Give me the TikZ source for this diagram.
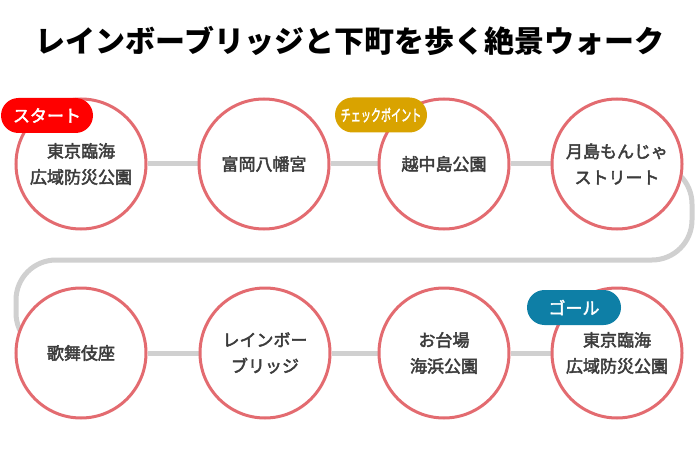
\documentclass[tikz,border=0pt]{standalone}
\usepackage{fontspec}
\setmainfont{Noto Sans CJK JP}
\newfontfamily\midfont[FakeBold=2.6]{Noto Sans CJK JP}
\usetikzlibrary{backgrounds}
\definecolor{ring}{HTML}{E36B70}
\definecolor{conn}{HTML}{D0D0D0}
\definecolor{txt}{HTML}{3C3C3C}
\definecolor{startc}{HTML}{FF0000}
\definecolor{checkc}{HTML}{D9A300}
\definecolor{goalc}{HTML}{0E7FA6}
\begin{document}
\begin{tikzpicture}[x=1pt,y=-1pt,
  spot/.style={circle, draw=ring, line width=3pt, fill=white, minimum size=130pt,
    inner sep=0pt, font=\midfont\fontsize{17}{26}\selectfont, text=txt, align=center},
  link/.style={draw=conn, line width=5pt},
  badge/.style={rounded corners=17.5pt, text=white, minimum height=35pt, inner sep=0pt,
    font=\midfont\fontsize{17}{20}\selectfont},
  headline/.style={font=\fontsize{30}{34}\selectfont\bfseries, text=black}
]
\useasboundingbox (0,0) rectangle (699,476);
\node[headline] (title) at (350,41) {レインボーブリッジと下町を歩く絶景ウォーク};

\node[spot] (c1) at (81,164) {東京臨海\\広域防災公園};
\node[spot] (c2) at (264,164) {富岡八幡宮};
\node[spot] (c3) at (444,164) {越中島公園};
\node[spot] (c4) at (617,164) {月島もんじゃ\\ストリート};
\node[spot] (c5) at (81,353) {歌舞伎座};
\node[spot] (c6) at (265,353) {レインボー\\ブリッジ};
\node[spot] (c7) at (444,353) {お台場\\海浜公園};
\node[spot] (c8) at (617,353) {東京臨海\\広域防災公園};

\coordinate (r1) at (692,164);
\coordinate (r2) at (692,260);
\coordinate (l1) at (16,260);
\coordinate (l2) at (16,353);

\begin{scope}[on background layer]
  \draw[link] (c1) -- (c2);
  \draw[link] (c2) -- (c3);
  \draw[link] (c3) -- (c4);
  \draw[link, rounded corners=40pt] (c4.center) -- (r1) -- (r2) -- (l1) -- (l2) -- (c5.center);
  \draw[link] (c5) -- (c6);
  \draw[link] (c6) -- (c7);
  \draw[link] (c7) -- (c8);
\end{scope}

\node[badge, fill=startc, minimum width=92pt] (start) at (47,115.5) {スタート};
\node[badge, fill=checkc, minimum width=92pt, font=\midfont\fontsize{16}{18}\selectfont] (check) at (381,115) {\scalebox{0.63}[1]{チェックポイント}};
\node[badge, fill=goalc, minimum width=94pt] (goal) at (574,307.5) {ゴール};
\end{tikzpicture}
\end{document}
